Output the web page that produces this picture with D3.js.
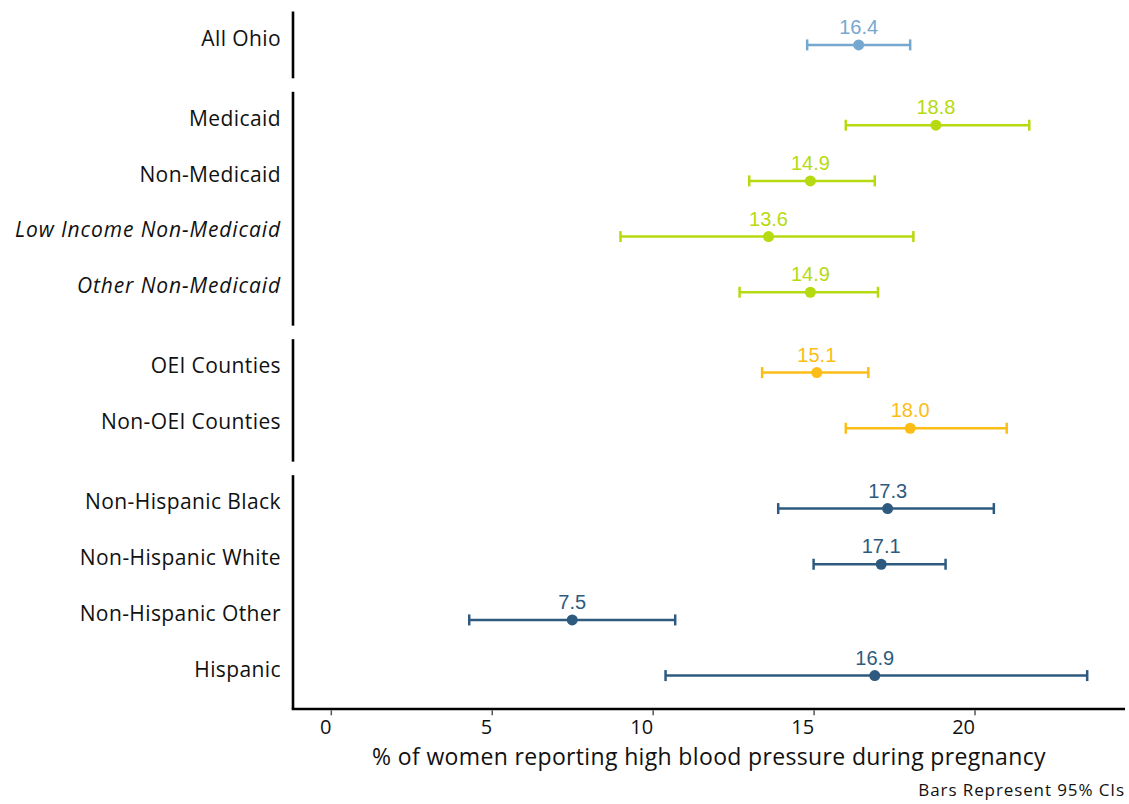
<!DOCTYPE html>
<html>
<head>
<meta charset="utf-8">
<script src="https://cdn.jsdelivr.net/npm/d3@7"></script>
<style>
  html, body { margin: 0; padding: 0; background: #fff; }
  svg { display: block; }
</style>
</head>
<body>
<svg id="chart" width="1129" height="804"></svg>
<script>
// ---- data ----
const groups = ["overall", "insurance", "county", "race"];
const categories = [
  "All Ohio",
  "Medicaid", "Non-Medicaid", "Low Income Non-Medicaid", "Other Non-Medicaid",
  "OEI Counties", "Non-OEI Counties",
  "Non-Hispanic Black", "Non-Hispanic White", "Non-Hispanic Other", "Hispanic"
];
const categoryGroup = [
  "overall",
  "insurance", "insurance", "insurance", "insurance",
  "county", "county",
  "race", "race", "race", "race"
];
const italicCategories = ["Low Income Non-Medicaid", "Other Non-Medicaid"];
const estimates = [16.4, 18.8, 14.9, 13.6, 14.9, 15.1, 18.0, 17.3, 17.1, 7.5, 16.9];
const lowerCI   = [14.8, 16.0, 13.0, 9.0, 12.7, 13.4, 16.0, 13.9, 15.0, 4.3, 10.4];
const upperCI   = [18.0, 21.7, 16.9, 18.1, 17.0, 16.7, 21.0, 20.6, 19.1, 10.7, 23.5];
const valueLabels = ["16.4", "18.8", "14.9", "13.6", "14.9", "15.1", "18.0", "17.3", "17.1", "7.5", "16.9"];
const groupColors = ["#75a8d0", "#b6da10", "#fbbd16", "#2d5a7e"];
const xTicks = [0, 5, 10, 15, 20];
const xTitle = "% of women reporting high blood pressure during pregnancy";
const caption = "Bars Represent 95% CIs";

// ---- layout ----
(function draw() {
const svg = d3.select("#chart");
const mLeft = 293, mRight = 1125, mTop = 11.5, mBottom = 709, gap = 13.5;
const sansFont = "'Open Sans', Lato, sans-serif";

const rows = categories.map((c, i) => ({
  cat: c, group: categoryGroup[i], est: estimates[i], lo: lowerCI[i], hi: upperCI[i], label: valueLabels[i]
}));

const xmax = d3.max(upperCI);
const xmin = 0;
const pad = (xmax - xmin) * 0.05;
const x = d3.scaleLinear().domain([xmin - pad, xmax + pad]).range([mLeft, mRight]);

const counts = groups.map(g => categoryGroup.filter(v => v === g).length);
const units = counts.map(n => n + 0.2);
const unit = (mBottom - mTop - gap * (groups.length - 1)) / d3.sum(units);
let yCursor = mTop;
const panels = groups.map((g, gi) => {
  const h = units[gi] * unit;
  const cats = categories.filter((c, i) => categoryGroup[i] === g);
  const y = d3.scalePoint().domain(cats).range([yCursor, yCursor + h]).padding(0.6);
  const p = { g, y0: yCursor, y1: yCursor + h, y, color: groupColors[gi] };
  yCursor += h + gap;
  return p;
});
const panelOf = g => panels.find(p => p.g === g);

panels.forEach(p => {
  svg.append("line")
    .attr("x1", mLeft).attr("x2", mLeft)
    .attr("y1", p.y0).attr("y2", p.y1)
    .attr("stroke", "#000").attr("stroke-width", 2.6);
  const ax = svg.append("g").attr("transform", `translate(${mLeft},0)`)
    .call(d3.axisLeft(p.y).tickSize(0).tickPadding(12));
  ax.select(".domain").remove();
  ax.selectAll("text")
    .attr("font-family", sansFont)
    .attr("font-size", 21)
    .attr("fill", "#111")
    .attr("dy", "0.02em")
    .attr("font-style", d => italicCategories.includes(d) ? "italic" : "normal")
    .attr("letter-spacing", d => italicCategories.includes(d) ? "0.9px" : "0.4px");
});

svg.append("line")
  .attr("x1", mLeft - 1.3).attr("x2", mRight)
  .attr("y1", mBottom).attr("y2", mBottom)
  .attr("stroke", "#000").attr("stroke-width", 2.6);
const xa = svg.append("g").attr("transform", `translate(0,${mBottom + 1.3})`)
  .call(d3.axisBottom(x).tickValues(xTicks).tickSize(5).tickPadding(5).tickFormat(d3.format("d")));
xa.select(".domain").remove();
xa.selectAll(".tick line").attr("stroke", "#555").attr("stroke-width", 1.5);
xa.selectAll("text")
  .attr("font-family", sansFont)
  .attr("font-size", 20)
  .attr("fill", "#111")
  .attr("text-anchor", "end");

svg.append("text")
  .attr("x", (mLeft + mRight) / 2).attr("y", 765)
  .attr("text-anchor", "middle")
  .attr("font-family", sansFont)
  .attr("font-size", 23)
  .attr("letter-spacing", "0.35px")
  .attr("fill", "#111")
  .text(xTitle);

svg.append("text")
  .attr("x", mRight).attr("y", 796)
  .attr("text-anchor", "end")
  .attr("font-family", sansFont)
  .attr("font-size", 17)
  .attr("letter-spacing", "0.9px")
  .attr("fill", "#111")
  .text(caption);

const capH = 5.5;
rows.forEach(r => {
  const p = panelOf(r.group);
  const yy = p.y(r.cat);
  const g = svg.append("g").attr("stroke", p.color).attr("stroke-width", 2.5).attr("fill", "none");
  g.append("line").attr("x1", x(r.lo)).attr("x2", x(r.hi)).attr("y1", yy).attr("y2", yy);
  g.append("line").attr("x1", x(r.lo)).attr("x2", x(r.lo)).attr("y1", yy - capH).attr("y2", yy + capH);
  g.append("line").attr("x1", x(r.hi)).attr("x2", x(r.hi)).attr("y1", yy - capH).attr("y2", yy + capH);
  svg.append("circle").attr("cx", x(r.est)).attr("cy", yy).attr("r", 5.5).attr("fill", p.color);
  svg.append("text")
    .attr("x", x(r.est)).attr("y", yy - 11)
    .attr("text-anchor", "middle")
    .attr("font-family", "'Liberation Sans', Arial, sans-serif")
    .attr("font-size", 20)
    .attr("fill", p.color)
    .text(r.label);
});
})();
</script>
</body>
</html>
